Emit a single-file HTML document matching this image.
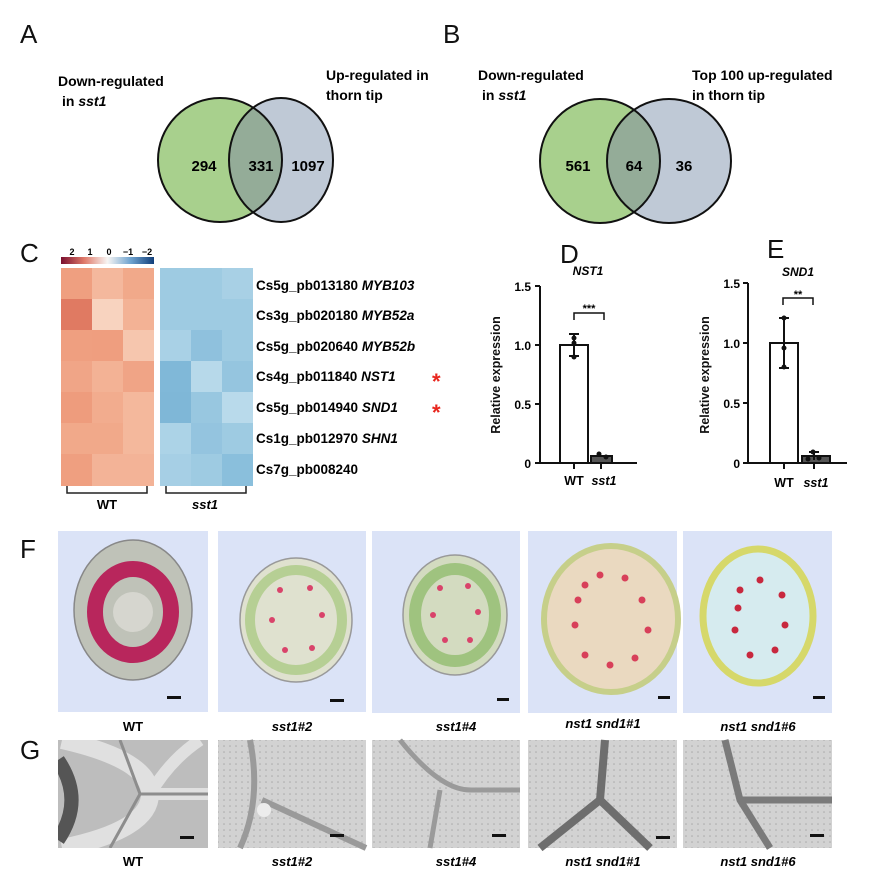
<!DOCTYPE html>
<html><head><meta charset="utf-8"><style>
body{margin:0;background:#fff;}
svg{display:block;font-family:"Liberation Sans",Arial,sans-serif;}
.b{font-weight:bold;}
</style></head><body>
<svg width="882" height="873" viewBox="0 0 882 873" xmlns="http://www.w3.org/2000/svg">
<defs>
<linearGradient id="cb" x1="0" x2="1">
<stop offset="0" stop-color="#7a0f2e"/><stop offset="0.25" stop-color="#e07a6a"/><stop offset="0.5" stop-color="#f7f5f3"/><stop offset="0.75" stop-color="#6fa3cf"/><stop offset="1" stop-color="#123f7a"/>
</linearGradient>
<pattern id="tem" width="6" height="6" patternUnits="userSpaceOnUse"><rect width="6" height="6" fill="#d2d2d2"/><circle cx="2" cy="2" r="0.8" fill="#aaa"/></pattern>
<clipPath id="g1"><rect x="58" y="740" width="150" height="108"/></clipPath>
</defs>
<g font-size="26" fill="#111">
<text x="20" y="43">A</text><text x="443" y="43">B</text>
<text x="20" y="262">C</text><text x="560" y="263">D</text><text x="767" y="258">E</text>
<text x="20" y="558">F</text><text x="20" y="759">G</text>
</g>
<ellipse cx="220" cy="160" rx="62" ry="62" fill="#a8d08d"/>
<ellipse cx="281" cy="160" rx="52" ry="62" fill="#bfc9d6"/>
<clipPath id="ca"><ellipse cx="220" cy="160" rx="62" ry="62"/></clipPath>
<ellipse cx="281" cy="160" rx="52" ry="62" fill="#94ac98" clip-path="url(#ca)"/>
<ellipse cx="220" cy="160" rx="62" ry="62" fill="none" stroke="#111" stroke-width="2"/>
<ellipse cx="281" cy="160" rx="52" ry="62" fill="none" stroke="#111" stroke-width="2"/>
<g class="b" font-size="15" text-anchor="middle"><text x="204" y="171">294</text><text x="261" y="171">331</text><text x="308" y="171">1097</text></g>
<g class="b" font-size="14"><text x="58" y="86">Down-regulated</text><text x="62" y="106">in <tspan font-style="italic">sst1</tspan></text>
<text x="326" y="80">Up-regulated in</text><text x="326" y="100">thorn tip</text></g>
<clipPath id="cbv"><ellipse cx="600" cy="161" rx="60" ry="62"/></clipPath>
<ellipse cx="600" cy="161" rx="60" ry="62" fill="#a8d08d"/>
<ellipse cx="669" cy="161" rx="62" ry="62" fill="#bfc9d6"/>
<ellipse cx="669" cy="161" rx="62" ry="62" fill="#94ac98" clip-path="url(#cbv)"/>
<ellipse cx="600" cy="161" rx="60" ry="62" fill="none" stroke="#111" stroke-width="2"/>
<ellipse cx="669" cy="161" rx="62" ry="62" fill="none" stroke="#111" stroke-width="2"/>
<g class="b" font-size="15" text-anchor="middle"><text x="578" y="171">561</text><text x="634" y="171">64</text><text x="684" y="171">36</text></g>
<g class="b" font-size="14"><text x="478" y="80">Down-regulated</text><text x="482" y="100">in <tspan font-style="italic">sst1</tspan></text>
<text x="692" y="80">Top 100 up-regulated</text><text x="692" y="100">in thorn tip</text></g>
<g class="b" font-size="9" text-anchor="middle"><text x="72" y="255">2</text><text x="90" y="255">1</text><text x="109" y="255">0</text><text x="128" y="255">−1</text><text x="147" y="255">−2</text></g>
<rect x="61" y="257" width="93" height="7" fill="url(#cb)"/>
<g>
<rect x="61" y="268" width="93" height="218" fill="#f2ad90"/>
<rect x="61" y="268" width="31" height="31" fill="#ef9f80"/><rect x="92" y="268" width="31" height="31" fill="#f4b89d"/><rect x="123" y="268" width="31" height="31" fill="#f1a98a"/>
<rect x="61" y="299" width="31" height="31" fill="#e07a62"/><rect x="92" y="299" width="31" height="31" fill="#f8d3bf"/><rect x="123" y="299" width="31" height="31" fill="#f3b295"/>
<rect x="61" y="330" width="31" height="31" fill="#ef9f80"/><rect x="92" y="330" width="31" height="31" fill="#ef9e7f"/><rect x="123" y="330" width="31" height="31" fill="#f6c6ae"/>
<rect x="61" y="361" width="31" height="31" fill="#f0a587"/><rect x="92" y="361" width="31" height="31" fill="#f3b295"/><rect x="123" y="361" width="31" height="31" fill="#f0a486"/>
<rect x="61" y="392" width="31" height="31" fill="#ee9c7d"/><rect x="92" y="392" width="31" height="31" fill="#f2ac8e"/><rect x="123" y="392" width="31" height="31" fill="#f4b89c"/>
<rect x="61" y="423" width="62" height="31" fill="#f1a98a"/><rect x="123" y="423" width="31" height="31" fill="#f4b89c"/>
<rect x="61" y="454" width="31" height="32" fill="#ef9f80"/><rect x="92" y="454" width="62" height="32" fill="#f3b397"/>
<rect x="160" y="268" width="93" height="218" fill="#9ecbe2"/>
<rect x="222" y="268" width="31" height="31" fill="#a8d0e5"/>
<rect x="160" y="330" width="31" height="31" fill="#a9d1e6"/><rect x="191" y="330" width="31" height="31" fill="#8fc1dd"/>
<rect x="160" y="361" width="31" height="31" fill="#80b8d8"/><rect x="191" y="361" width="31" height="31" fill="#b7d9ea"/><rect x="222" y="361" width="31" height="31" fill="#95c5df"/>
<rect x="160" y="392" width="31" height="31" fill="#7fb7d7"/><rect x="191" y="392" width="31" height="31" fill="#98c7e0"/><rect x="222" y="392" width="31" height="31" fill="#b9daeb"/>
<rect x="160" y="423" width="31" height="31" fill="#acd3e7"/><rect x="191" y="423" width="31" height="31" fill="#94c4df"/>
<rect x="160" y="454" width="31" height="32" fill="#a6cfe5"/><rect x="191" y="454" width="31" height="32" fill="#9ecbe2"/><rect x="222" y="454" width="31" height="32" fill="#8abfdc"/>
</g>
<g class="b" font-size="13.5">
<text x="256" y="290">Cs5g_pb013180 <tspan font-style="italic">MYB103</tspan></text>
<text x="256" y="320">Cs3g_pb020180 <tspan font-style="italic">MYB52a</tspan></text>
<text x="256" y="351">Cs5g_pb020640 <tspan font-style="italic">MYB52b</tspan></text>
<text x="256" y="381">Cs4g_pb011840 <tspan font-style="italic">NST1</tspan></text>
<text x="256" y="412">Cs5g_pb014940 <tspan font-style="italic">SND1</tspan></text>
<text x="256" y="443">Cs1g_pb012970 <tspan font-style="italic">SHN1</tspan></text>
<text x="256" y="474">Cs7g_pb008240</text>
</g>
<g fill="#e8261e" font-size="22" class="b"><text x="432" y="389">*</text><text x="432" y="420">*</text></g>
<g stroke="#222" stroke-width="1.5" fill="none">
<path d="M67 486v7h80v-7"/><path d="M166 486v7h80v-7"/>
</g>
<text x="107" y="509" class="b" font-size="13" text-anchor="middle">WT</text>
<text x="205" y="509" class="b" font-size="13" font-style="italic" text-anchor="middle">sst1</text>
<g stroke="#111" stroke-width="2" fill="none">
<path d="M540 286V463H637"/>
<path d="M535 286h5M535 345h5M535 404h5M535 463h5"/>
<rect x="560" y="345" width="28" height="118" fill="#fff"/>
<rect x="591" y="456" width="21" height="7" fill="#555"/>
<path d="M574 334v22M569 334h10M569 356h10"/>
<path d="M574 463v6M601 463v6"/>
<path d="M574 320v-7h30v7" stroke-width="1.5"/>
</g>
<g fill="#111"><circle cx="574" cy="338" r="2.5"/><circle cx="574" cy="343" r="2.5"/><circle cx="574" cy="357" r="2.5"/><circle cx="599" cy="454" r="2.5"/><circle cx="606" cy="457" r="2.5"/></g>
<text x="589" y="312" font-size="11" text-anchor="middle" class="b">***</text>
<text x="588" y="275" font-size="12" class="b" font-style="italic" text-anchor="middle">NST1</text>
<g font-size="12" class="b" text-anchor="end"><text x="531" y="291">1.5</text><text x="531" y="350">1.0</text><text x="531" y="409">0.5</text><text x="531" y="468">0</text></g>
<text transform="translate(500,375) rotate(-90)" font-size="12.5" class="b" text-anchor="middle" fill="#111">Relative expression</text>
<g font-size="12.5" class="b" text-anchor="middle"><text x="574" y="485">WT</text><text x="604" y="485" font-style="italic">sst1</text></g>
<g stroke="#111" stroke-width="2" fill="none">
<path d="M748 283V463H847"/>
<path d="M743 283h5M743 343h5M743 403h5M743 463h5"/>
<rect x="770" y="343" width="28" height="120" fill="#fff"/>
<rect x="802" y="456" width="28" height="7" fill="#555"/>
<path d="M784 318v50M779 318h10M779 368h10"/>
<path d="M814 452v8M809 452h10"/>
<path d="M784 463v6M814 463v6"/>
<path d="M783 305v-7h30v7" stroke-width="1.5"/>
</g>
<g fill="#111"><circle cx="784" cy="318" r="2.5"/><circle cx="784" cy="348" r="2.5"/><circle cx="784" cy="367" r="2.5"/><circle cx="813" cy="452" r="2.5"/><circle cx="808" cy="459" r="2.5"/><circle cx="819" cy="458" r="2.5"/></g>
<text x="798" y="298" font-size="11" text-anchor="middle" class="b">**</text>
<text x="798" y="276" font-size="12" class="b" font-style="italic" text-anchor="middle">SND1</text>
<g font-size="12" class="b" text-anchor="end"><text x="740" y="288">1.5</text><text x="740" y="348">1.0</text><text x="740" y="408">0.5</text><text x="740" y="468">0</text></g>
<text transform="translate(709,375) rotate(-90)" font-size="12.5" class="b" text-anchor="middle" fill="#111">Relative expression</text>
<g font-size="12.5" class="b" text-anchor="middle"><text x="784" y="487">WT</text><text x="816" y="487" font-style="italic">sst1</text></g>
<g fill="#dbe3f7">
<rect x="58" y="531" width="150" height="181"/><rect x="218" y="531" width="148" height="181"/><rect x="372" y="531" width="148" height="182"/><rect x="528" y="531" width="149" height="182"/><rect x="683" y="531" width="149" height="182"/>
</g>
<ellipse cx="133" cy="610" rx="59" ry="70" fill="#bfc2b8" stroke="#888" stroke-width="1.5"/>
<ellipse cx="133" cy="612" rx="38" ry="43" fill="none" stroke="#b8265c" stroke-width="16"/>
<circle cx="133" cy="612" r="20" fill="#d6d6cf"/>
<ellipse cx="296" cy="620" rx="56" ry="62" fill="#dfe1cf" stroke="#999" stroke-width="1.5"/>
<ellipse cx="296" cy="620" rx="46" ry="50" fill="none" stroke="#b6cf94" stroke-width="10"/>
<g fill="#d9436a"><circle cx="280" cy="590" r="3"/><circle cx="310" cy="588" r="3"/><circle cx="322" cy="615" r="3"/><circle cx="272" cy="620" r="3"/><circle cx="285" cy="650" r="3"/><circle cx="312" cy="648" r="3"/></g>
<ellipse cx="455" cy="615" rx="52" ry="60" fill="#d3dbc0" stroke="#999" stroke-width="1.5"/>
<ellipse cx="455" cy="615" rx="40" ry="46" fill="none" stroke="#9fc37f" stroke-width="12"/>
<g fill="#d9436a"><circle cx="440" cy="588" r="3"/><circle cx="468" cy="586" r="3"/><circle cx="478" cy="612" r="3"/><circle cx="433" cy="615" r="3"/><circle cx="445" cy="640" r="3"/><circle cx="470" cy="640" r="3"/></g>
<ellipse cx="611" cy="619" rx="67" ry="73" fill="#ead9c0" stroke="#c6cf8a" stroke-width="6"/>
<g fill="#d8405a"><circle cx="585" cy="585" r="3.5"/><circle cx="600" cy="575" r="3.5"/><circle cx="625" cy="578" r="3.5"/><circle cx="642" cy="600" r="3.5"/><circle cx="648" cy="630" r="3.5"/><circle cx="635" cy="658" r="3.5"/><circle cx="610" cy="665" r="3.5"/><circle cx="585" cy="655" r="3.5"/><circle cx="575" cy="625" r="3.5"/><circle cx="578" cy="600" r="3.5"/></g>
<ellipse cx="758" cy="616" rx="55" ry="67" fill="#d6ebef" stroke="#d6d86a" stroke-width="7"/>
<g fill="#c8283e"><circle cx="740" cy="590" r="3.5"/><circle cx="760" cy="580" r="3.5"/><circle cx="782" cy="595" r="3.5"/><circle cx="785" cy="625" r="3.5"/><circle cx="775" cy="650" r="3.5"/><circle cx="750" cy="655" r="3.5"/><circle cx="735" cy="630" r="3.5"/><circle cx="738" cy="608" r="3.5"/></g>
<g fill="#111"><rect x="167" y="696" width="14" height="3"/><rect x="330" y="699" width="14" height="3"/><rect x="497" y="698" width="12" height="3"/><rect x="658" y="696" width="12" height="3"/><rect x="813" y="696" width="12" height="3"/></g>
<g class="b" font-size="13" text-anchor="middle">
<text x="133" y="731">WT</text>
<text x="292" y="731" font-style="italic">sst1#2</text>
<text x="456" y="731" font-style="italic">sst1#4</text>
<text x="603" y="728" font-style="italic">nst1 snd1#1</text>
<text x="758" y="731" font-style="italic">nst1 snd1#6</text>
</g>
<g fill="url(#tem)">
<rect x="218" y="740" width="148" height="108"/><rect x="372" y="740" width="148" height="108"/><rect x="528" y="740" width="149" height="108"/><rect x="683" y="740" width="149" height="108"/>
</g>
<g clip-path="url(#g1)">
<rect x="58" y="740" width="150" height="108" fill="#bdbdbd"/>
<path d="M62 740Q150 760 150 794Q150 830 62 848" fill="none" stroke="#e0e0e0" stroke-width="18"/>
<path d="M150 794L208 794M150 794Q170 760 200 740" stroke="#e0e0e0" stroke-width="12" fill="none"/>
<path d="M140 794L208 794M140 794L120 740M140 794L110 848" stroke="#8d8d8d" stroke-width="3" fill="none"/>
<path d="M58 760Q85 800 58 840" stroke="#555" stroke-width="14" fill="none"/>
</g>
<path d="M250 740Q262 800 240 848M262 800L366 848" stroke="#9a9a9a" stroke-width="6" fill="none"/>
<circle cx="264" cy="810" r="7" fill="#ececec"/>
<path d="M400 740Q440 790 470 790L520 790M440 790L430 848" stroke="#9a9a9a" stroke-width="5" fill="none"/>
<path d="M605 740L600 800L540 848M600 800L650 848" stroke="#6e6e6e" stroke-width="8" fill="none"/>
<path d="M725 740L740 800L770 848M740 800L832 800" stroke="#7a7a7a" stroke-width="7" fill="none"/>
<g fill="#111"><rect x="180" y="836" width="14" height="3"/><rect x="330" y="834" width="14" height="3"/><rect x="492" y="834" width="14" height="3"/><rect x="656" y="836" width="14" height="3"/><rect x="810" y="834" width="14" height="3"/></g>
<g class="b" font-size="13" text-anchor="middle">
<text x="133" y="866">WT</text>
<text x="292" y="866" font-style="italic">sst1#2</text>
<text x="456" y="866" font-style="italic">sst1#4</text>
<text x="603" y="866" font-style="italic">nst1 snd1#1</text>
<text x="758" y="866" font-style="italic">nst1 snd1#6</text>
</g>
</svg>
</body></html>
